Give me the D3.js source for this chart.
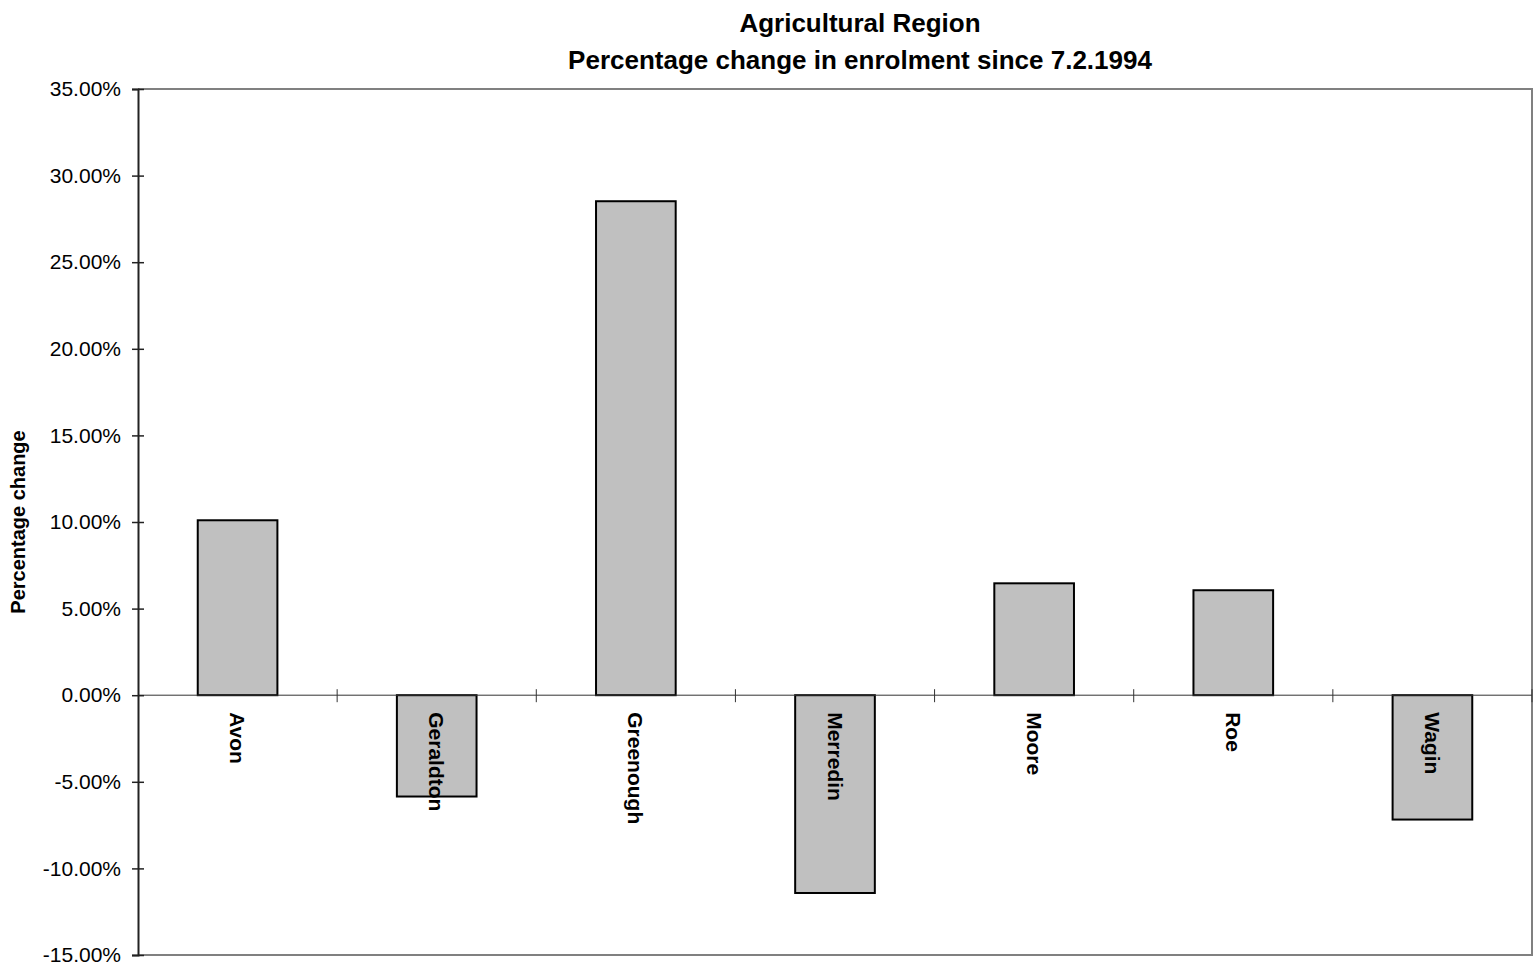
<!DOCTYPE html>
<html>
<head>
<meta charset="utf-8">
<script src="https://cdn.jsdelivr.net/npm/d3@7"></script>
<style>
  html, body { margin: 0; padding: 0; background: #fff; }
  svg { display: block; font-family: "Liberation Sans", Arial, sans-serif; }
</style>
</head>
<body>
<svg id="chart" width="1533" height="969"></svg>
<script>
const categories = ["Avon", "Geraldton", "Greenough", "Merredin", "Moore", "Roe", "Wagin"];
const values = [10.10, -5.85, 28.52, -11.42, 6.46, 6.06, -7.18];
const yTicks = [-15, -10, -5, 0, 5, 10, 15, 20, 25, 30, 35];
const titleLines = ["Agricultural Region", "Percentage change in enrolment since 7.2.1994"];
const yTitle = "Percentage change";

const svg = d3.select("#chart");
const L = 138, R = 1532, T = 89, B = 955;

const x = d3.scaleBand().domain(categories).range([L, R]).paddingInner(0).paddingOuter(0);
const y = d3.scaleLinear().domain([-15, 35]).range([B, T]);
const barW = x.bandwidth() * 0.4;

// plot border (gray) top/right/bottom
svg.append("path")
  .attr("d", `M${L},${T}H${R}V${B}H${L}`)
  .attr("fill", "none").attr("stroke", "#808080").attr("stroke-width", 2);

// bars
svg.append("g").selectAll("rect").data(categories).join("rect")
  .attr("x", (d) => x(d) + (x.bandwidth() - barW) / 2)
  .attr("y", (d, i) => y(Math.max(0, values[i])))
  .attr("width", barW)
  .attr("height", (d, i) => Math.abs(y(values[i]) - y(0)))
  .attr("fill", "#c0c0c0")
  .attr("stroke", "#000").attr("stroke-width", 2);

// zero line with category boundary ticks
const xAxis = svg.append("g").attr("transform", `translate(0,${y(0)})`);
xAxis.append("line").attr("x1", L).attr("x2", R).attr("stroke", "#333").attr("stroke-width", 1);
xAxis.selectAll("line.tk").data(categories.slice(1).concat(["__end"])).join("line")
  .attr("class", "tk")
  .attr("x1", (d) => d === "__end" ? R : x(d))
  .attr("x2", (d) => d === "__end" ? R : x(d))
  .attr("y1", -6).attr("y2", 7)
  .attr("stroke", "#333").attr("stroke-width", 1);

// category labels (rotated)
xAxis.selectAll("text").data(categories).join("text")
  .attr("transform", (d) => `translate(${x(d) + x.bandwidth() / 2},17) rotate(90)`)
  .attr("dy", "0.35em")
  .attr("text-anchor", "start")
  .attr("font-size", 21).attr("font-weight", "bold").attr("fill", "#000")
  .text((d) => d);

// y axis
const yAxis = d3.axisLeft(y).tickValues(yTicks).tickSize(6).tickPadding(11)
  .tickFormat((d) => d.toFixed(2) + "%");
const gy = svg.append("g").attr("transform", `translate(${L},0)`).call(yAxis);
gy.select(".domain").attr("stroke", "#222").attr("stroke-width", 2);
gy.selectAll(".tick line").attr("stroke", "#222").attr("stroke-width", 1.5).attr("x2", -6).attr("x1", 6);
gy.selectAll(".tick text").attr("font-size", 21).attr("fill", "#000")
  .attr("font-family", "'Liberation Sans', Arial, sans-serif");

// y title
svg.append("text")
  .attr("transform", `translate(25,${(T + B) / 2}) rotate(-90)`)
  .attr("text-anchor", "middle")
  .attr("font-size", 20).attr("font-weight", "bold").attr("fill", "#000")
  .text(yTitle);

// chart title
svg.append("g").selectAll("text").data(titleLines).join("text")
  .attr("x", 860)
  .attr("y", (d, i) => 32 + i * 37)
  .attr("text-anchor", "middle")
  .attr("font-size", 26).attr("font-weight", "bold").attr("fill", "#000")
  .text((d) => d);
</script>
</body>
</html>
